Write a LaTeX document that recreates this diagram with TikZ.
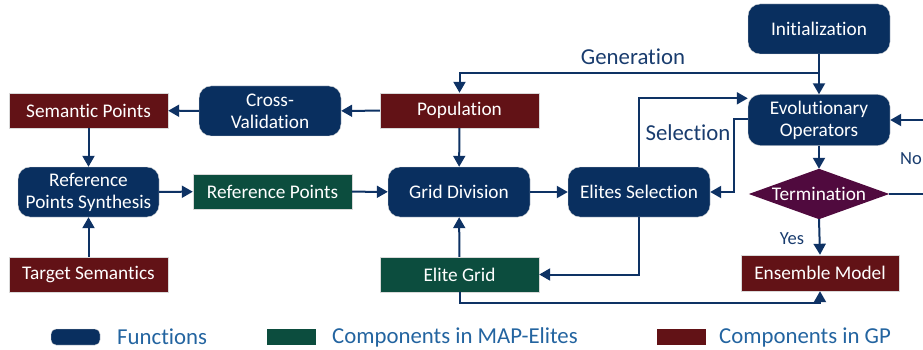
\documentclass[tikz,border=0pt]{standalone}
\usepackage{fontspec}
\setmainfont{Carlito}[Ligatures={NoCommon}]
\usetikzlibrary{arrows.meta,calc}
\definecolor{fnavy}{RGB}{9,47,95}
\definecolor{cgreen}{RGB}{12,77,62}
\definecolor{cred}{RGB}{98,18,22}
\definecolor{cpurple}{RGB}{80,10,62}
\definecolor{lnavy}{RGB}{14,50,100}
\definecolor{lbltext}{RGB}{25,60,110}
\definecolor{legtext}{RGB}{35,100,160}
\tikzset{
  func/.style={draw=white!85!black, line width=0.4pt, fill=fnavy, rounded corners=12pt, minimum width=142pt, minimum height=50pt, inner sep=0pt, text=white, align=center, font=\fontsize{19.3}{22}\selectfont},
  gpbox/.style={draw=white!85!black, line width=0.4pt, fill=cred, minimum width=159pt, minimum height=35pt, inner sep=0pt, text=white, font=\fontsize{19.3}{22}\selectfont},
  mebox/.style={gpbox, fill=cgreen},
  arr/.style={draw=lnavy, line width=2pt, -{Triangle[length=11pt,width=12pt]}},
  ln/.style={draw=lnavy, line width=2pt},
  elabel/.style={text=lbltext, font=\fontsize{22.8}{26}\selectfont, inner sep=0pt},
  slabel/.style={text=lbltext, font=\fontsize{18.5}{22}\selectfont, inner sep=0pt},
  legtxt/.style={text=legtext, font=\fontsize{22.8}{26}\selectfont, inner sep=0pt, anchor=west},
}
\begin{document}
\begin{tikzpicture}[x=1pt,y=-1pt]
\useasboundingbox (0,0) rectangle (923,350);
\clip (0,0) rectangle (923,350);
% nodes
\node[func] (init) at (819,29) {Initialization};
\node[func, minimum height=51pt] (eo) at (819,120) {Evolutionary\\Operators};
\node[gpbox] (pop) at (459.5,110.5) {Population};
\node[func] (cv) at (270,111) {Cross-\\Validation};
\node[gpbox] (sp) at (88.5,110.5) {Semantic Points};
\node[func, minimum width=141pt] (rps) at (88.5,192) {Reference\\Points Synthesis};
\node[mebox] (rp) at (272.5,191.5) {Reference Points};
\node[func] (gd) at (459,192) {Grid Division};
\node[func] (es) at (639,192) {Elites Selection};
\node[minimum width=140pt, minimum height=50pt, inner sep=0pt] (term) at (819,194) {};
\fill[cpurple] (term.north) -- (term.east) -- (term.south) -- (term.west) -- cycle;
\node[text=white, font=\fontsize{19.3}{22}\selectfont, inner sep=0pt] (termtxt) at (term.center) {Termination};
\node[gpbox, minimum width=158pt, minimum height=36pt] (em) at (820,273) {Ensemble Model};
\node[mebox] (eg) at (459.5,274.5) {Elite Grid};
\node[gpbox] (ts) at (88.5,274.5) {Target Semantics};
% connectors
\draw[arr] (init) -- (eo);
\coordinate (gen) at (819,73);
\draw[arr] (gen) -| (pop.north);
\node[elabel] (genlbl) at (633,57) {Generation};
\draw[arr] (es.north) |- ([yshift=-4pt]eo.north west);
\node[elabel] (sellbl) at (688,133) {Selection};
\coordinate (eoleft) at (734,119);
\draw[arr] (eo.west |- eoleft) -- (eoleft) |- (es.east);
\draw[arr] (eo) -- (term.north);
\coordinate (rt1) at (940,194);
\coordinate (rt2) at (940,120);
\draw[arr] (term.east) -- (rt1) -- (rt2) -- (eo.east);
\node[slabel, anchor=west] (nolbl) at (900,159) {No};
\draw[arr] (term.south) -- (em.north);
\node[slabel] (yeslbl) at (792,239) {Yes};
\coordinate (egb) at (459.5,303);
\draw[arr] (eg.south) -- (egb) -| (em.south);
\draw[arr] (eg) -- (gd);
\draw[arr] (es.south) |- (eg.east);
\draw[arr] (gd) -- (es);
\draw[arr] (rp) -- (gd);
\draw[arr] (rps) -- (rp);
\draw[arr] (pop) -- (gd);
\draw[arr] (pop) -- (cv);
\draw[arr] (cv) -- (sp);
\draw[arr] (sp) -- (rps);
\draw[arr] (ts) -- (rps);
% legend
\node[draw=white!85!black, line width=0.4pt, fill=fnavy, rounded corners=5pt, minimum width=49pt, minimum height=16pt, inner sep=0pt] (legf) at (75.5,337) {};
\node[legtxt] (legft) at (117,337) {Functions};
\node[fill=cgreen, minimum width=49pt, minimum height=16pt, inner sep=0pt] (legm) at (291.5,337) {};
\node[legtxt] (legmt) at (332,337) {Components in MAP-Elites};
\node[fill=cred, minimum width=49pt, minimum height=16pt, inner sep=0pt] (legg) at (681.5,337) {};
\node[legtxt] (leggt) at (719,337) {Components in GP};
\end{tikzpicture}
\end{document}
